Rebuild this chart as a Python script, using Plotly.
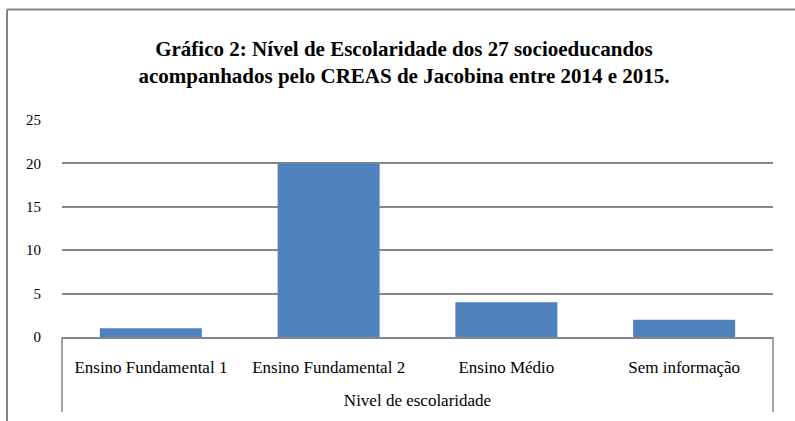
import plotly.graph_objects as go

categories = ["Ensino Fundamental 1", "Ensino Fundamental 2", "Ensino Médio", "Sem informação"]
values = [1, 20, 4, 2]
y_ticks = [0, 5, 10, 15, 20, 25]

W, H = 795, 421
L, R, T, B = 62, 773, 120, 337
pw, ph = R - L, B - T

def px(x):
    return (x - L) / pw

def py(y):
    return (B - y) / ph

gray = "#868686"
serif = "Liberation Serif"

fig = go.Figure(go.Bar(x=categories, y=values, marker=dict(color="#4F81BD", line=dict(width=0))))

shapes = [
    dict(type="line", xref="paper", yref="paper", x0=px(7), x1=px(7), y0=py(9.5), y1=py(430), line=dict(color=gray, width=2)),
    dict(type="line", xref="paper", yref="paper", x0=px(7), x1=px(800), y0=py(9.5), y1=py(9.5), line=dict(color=gray, width=2)),
    dict(type="line", xref="paper", yref="paper", x0=0, x1=0, y0=0, y1=py(412), line=dict(color=gray, width=1.5)),
    dict(type="line", xref="paper", yref="paper", x0=1, x1=1, y0=0, y1=py(412), line=dict(color=gray, width=1.5)),
]

fig.update_layout(
    width=W, height=H,
    margin=dict(l=L, r=W - R, t=T, b=H - B, pad=0),
    paper_bgcolor="white", plot_bgcolor="white",
    showlegend=False,
    bargap=0.426,
    title=dict(
        text="<b>Gráfico 2: Nível de Escolaridade dos 27 socioeducandos<br>acompanhados pelo CREAS de Jacobina entre 2014 e 2015.</b>",
        x=404 / W, xanchor="center", y=1 - 56 / H, yanchor="middle",
        font=dict(family=serif, size=21, color="#000000"),
    ),
    xaxis=dict(
        showline=True, linecolor=gray, linewidth=1.5,
        showgrid=False, ticks="",
        tickfont=dict(family=serif, size=17, color="#000000"),
        ticklabelstandoff=14,
        title=dict(text="Nivel de escolaridade", font=dict(family=serif, size=17, color="#000000"), standoff=18),
        fixedrange=True,
    ),
    yaxis=dict(
        range=[0, 25], tickvals=y_ticks,
        showgrid=True, gridcolor=gray, gridwidth=1.5,
        zeroline=False, showline=False, ticks="",
        tickfont=dict(family=serif, size=15, color="#000000"),
        ticklabelstandoff=20,
        fixedrange=True,
    ),
    shapes=shapes,
)

fig.write_html("out.html", config={"displayModeBar": False},
               post_script="document.body.style.margin='0';")
